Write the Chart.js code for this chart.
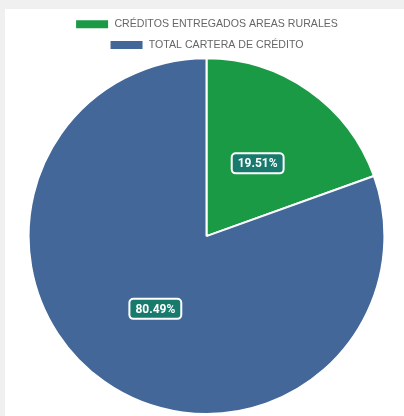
<!DOCTYPE html>
<html>
<head>
<meta charset="utf-8">
<script src="https://cdn.jsdelivr.net/npm/chart.js@4"></script>
<style>
    html, body { margin: 0; padding: 0; background: #f0f0f0; }
    #wrap { position: absolute; left: 5px; top: 9px; width: 399px; height: 407px; background: #fff; }
</style>
</head>
<body>
<div id="wrap"><canvas id="chart"></canvas></div>
<script>
const labels = ['CRÉDITOS ENTREGADOS AREAS RURALES', 'TOTAL CARTERA DE CRÉDITO'];
const percents = [19.51, 80.49];
const colors = ['#1b9a46', '#426798'];

// draws the percentage in a rounded box at the middle of each slice
const sliceLabels = {
    id: 'sliceLabels',
    afterDatasetsDraw(chart) {
        const ctx = chart.ctx;
        const meta = chart.getDatasetMeta(0);
        ctx.save();
        ctx.font = 'bold 12px Roboto';
        ctx.textAlign = 'center';
        ctx.textBaseline = 'middle';
        meta.data.forEach((arc, i) => {
            const pos = arc.tooltipPosition();
            const text = percents[i].toFixed(2) + '%';
            const w = ctx.measureText(text).width + 12;
            const h = 20;
            ctx.beginPath();
            ctx.roundRect(pos.x - w / 2, pos.y - h / 2, w, h, 4);
            ctx.fillStyle = '#177a6c';
            ctx.fill();
            ctx.lineWidth = 2;
            ctx.strokeStyle = '#ffffff';
            ctx.stroke();
            ctx.fillStyle = '#ffffff';
            ctx.fillText(text, pos.x, pos.y + 1);
        });
        ctx.restore();
    }
};

// keep the legend where it was before the negative top padding
const legendNudge = {
    id: 'legendNudge',
    afterLayout(chart) {
        chart.legend.top += 3;
        chart.legend.bottom += 3;
    }
};

var ctx = document.getElementById('chart').getContext('2d');
var myPieChart = new Chart(ctx, {
    type: 'pie',
    data: {
        labels: labels,
        datasets: [{
            data: percents,
            backgroundColor: colors,
            borderColor: '#ffffff',
            borderWidth: 2
        }]
    },
    options: {
        responsive: true,
        maintainAspectRatio: false,
        animation: false,
        layout: {
            padding: { top: -3, bottom: 1, left: 5, right: 1 }
        },
        plugins: {
            legend: {
                position: 'top',
                labels: {
                    boxWidth: 34,
                    boxHeight: 10,
                    padding: 10,
                    color: '#666',
                    font: { family: 'Liberation Sans', size: 10.6 }
                }
            },
            tooltip: { enabled: false }
        }
    },
    plugins: [sliceLabels, legendNudge]
});
</script>
</body>
</html>
